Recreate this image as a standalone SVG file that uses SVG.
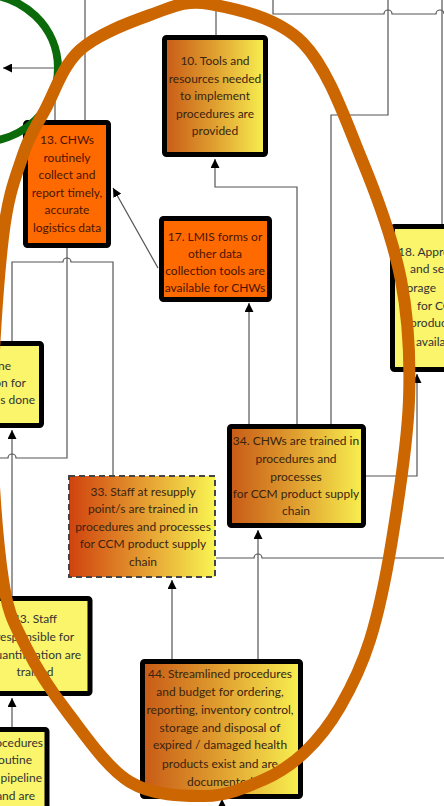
<svg xmlns="http://www.w3.org/2000/svg" width="444" height="806" viewBox="0 0 444 806">
<style>
.box{stroke:#000;stroke-width:5;stroke-linejoin:round}
.org{fill:#FF6A00}
.yel{fill:#FAF56A}
.t{font-family:Lato,"Liberation Sans",sans-serif;font-size:12px;text-anchor:middle}
.to{fill:#4a1500}
.tg{fill:#3a2410}
.ty{fill:#333}
.c{fill:none;stroke:#555;stroke-width:1.2}
</style>
<defs>
<linearGradient id="g1" x1="0" y1="0" x2="1" y2="0">
<stop offset="0" stop-color="#C85A16"/><stop offset="0.5" stop-color="#E0A030"/><stop offset="1" stop-color="#F8F050"/>
</linearGradient>
<linearGradient id="g2" x1="0" y1="0" x2="1" y2="0">
<stop offset="0" stop-color="#D0420E"/><stop offset="0.5" stop-color="#E49A30"/><stop offset="1" stop-color="#F8F452"/>
</linearGradient>
<marker id="ar" markerUnits="userSpaceOnUse" markerWidth="9" markerHeight="9" refX="9" refY="4.5" orient="auto">
<path d="M0,0 L9,4.5 L0,9 z" fill="#000"/>
</marker>
</defs>

<g id="connectors">
<path class="c" d="M55,120 V68 H3" marker-end="url(#ar)"/>
<path class="c" d="M85,0 V120"/>
<path class="c" d="M216,0 V37"/>
<path class="c" d="M297,424 V187 H215 V159" marker-end="url(#ar)"/>
<path class="c" d="M273,0 V14 H384 a4,4 0 0 1 8,0 H436 a4,4 0 0 1 8,0"/>
<path class="c" d="M388,0 V115 H331 V424"/>
<path class="c" d="M442,0 V226"/>
<path class="c" d="M366,476 H417 V374" marker-end="url(#ar)"/>
<path class="c" d="M258,659 V530" marker-end="url(#ar)"/>
<path class="c" d="M216,558 H254 a4,4 0 0 1 8,0 H444"/>
<path class="c" d="M172,659 V580" marker-end="url(#ar)"/>
<path class="c" d="M249,424 V303" marker-end="url(#ar)"/>
<path class="c" d="M67,248 V458 H16 a4,4 0 0 0 -8,0 H0"/>
<path class="c" d="M12,596 V430" marker-end="url(#ar)"/>
<path class="c" d="M12,727 V698" marker-end="url(#ar)"/>
<path class="c" d="M158,268 L113,188" marker-end="url(#ar)"/>
<path class="c" d="M113,475 V262 H71 a4,4 0 0 0 -8,0 H12 V341"/>
<path class="c" d="M222,806 V799" marker-end="url(#ar)"/>
</g>

<g id="n10">
<rect class="box" x="164.5" y="37.5" width="101" height="117" rx="2" fill="url(#g1)"/>
<text class="t tg"><tspan x="215" y="65">10. Tools and</tspan><tspan x="215" y="83">resources needed</tspan><tspan x="215" y="100">to implement</tspan><tspan x="215" y="118">procedures are</tspan><tspan x="215" y="135">provided</tspan></text>
</g>

<g id="n13">
<rect class="box org" x="25.5" y="122.5" width="83" height="123" rx="2"/>
<text class="t to"><tspan x="67" y="144">13. CHWs</tspan><tspan x="67" y="162">routinely</tspan><tspan x="67" y="179">collect and</tspan><tspan x="67" y="197">report timely,</tspan><tspan x="67" y="214">accurate</tspan><tspan x="67" y="232">logistics data</tspan></text>
</g>

<g id="n17">
<rect class="box org" x="161.5" y="218.5" width="108" height="81" rx="2"/>
<text class="t to"><tspan x="215" y="241">17. LMIS forms or</tspan><tspan x="215" y="258">other data</tspan><tspan x="215" y="275">collection tools are</tspan><tspan x="215" y="292">available for CHWs</tspan></text>
</g>

<g id="n18">
<rect class="box yel" x="392.5" y="226.5" width="100" height="143" rx="2"/>
<text class="t ty" style="text-anchor:start"><tspan x="398" y="256">18. Appro</tspan><tspan x="410" y="273">and se</tspan><tspan x="397" y="292">storage</tspan><tspan x="417" y="310">for CC</tspan><tspan x="410" y="327">produc</tspan><tspan x="416" y="346">availa</tspan></text>
</g>

<g id="nA">
<rect class="box yel" x="-10" y="343.5" width="51.5" height="82" rx="2"/>
<text class="t ty" style="text-anchor:end"><tspan x="11" y="370">ne</tspan><tspan x="26" y="387">on for</tspan><tspan x="35" y="404">s done</tspan></text>
</g>

<g id="n33">
<rect x="69" y="476" width="146" height="101" fill="url(#g2)" stroke="#444" stroke-width="2" stroke-dasharray="6,4"/>
<text class="t tg"><tspan x="143" y="496">33. Staff at resupply</tspan><tspan x="143" y="513">point/s are trained in</tspan><tspan x="143" y="531">procedures and processes</tspan><tspan x="143" y="548">for CCM product supply</tspan><tspan x="143" y="566">chain</tspan></text>
</g>

<g id="n34">
<rect class="box" x="229.5" y="426.5" width="134" height="99" rx="2" fill="url(#g1)"/>
<text class="t tg"><tspan x="296" y="445">34. CHWs are trained in</tspan><tspan x="296" y="463">procedures and</tspan><tspan x="296" y="481">processes</tspan><tspan x="296" y="498">for CCM product supply</tspan><tspan x="296" y="515">chain</tspan></text>
</g>

<g id="n43">
<rect class="box yel" x="-20" y="598.5" width="110" height="95" rx="2"/>
<text class="t ty"><tspan x="35" y="623">43. Staff</tspan><tspan x="35" y="641">responsible for</tspan><tspan x="35" y="659">quantification  are</tspan><tspan x="35" y="676">trained</tspan></text>
</g>

<g id="nB">
<rect class="box yel" x="-20" y="729.5" width="67" height="100" rx="2"/>
<text class="t ty" style="text-anchor:end"><tspan x="43" y="747">ocedures</tspan><tspan x="32" y="764">outine</tspan><tspan x="42" y="782">pipeline</tspan><tspan x="35" y="800">and are</tspan></text>
</g>

<g id="n44">
<rect class="box" x="142.5" y="661.5" width="158" height="135" rx="2" fill="url(#g1)"/>
<text class="t tg"><tspan x="220" y="678">44. Streamlined procedures</tspan><tspan x="220" y="696">and budget for ordering,</tspan><tspan x="220" y="714">reporting, inventory control,</tspan><tspan x="220" y="732">storage and disposal of</tspan><tspan x="220" y="749">expired / damaged health</tspan><tspan x="220" y="768">products exist and are</tspan><tspan x="220" y="786">documented</tspan></text>
</g>

<g id="highlights">
<ellipse cx="-20" cy="68" rx="78" ry="74" fill="none" stroke="#0B6B0B" stroke-width="8"/>
<path fill="none" stroke="#CC6600" stroke-width="12" d="M210,4 C235.5,8.7 277.7,17 303,43 C328.3,69 345.7,120.5 362,160 C378.3,199.5 393.2,240 401,280 C408.8,320 410.5,356.7 409,400 C407.5,443.3 398.5,500 392,540 C385.5,580 378.7,612.2 370,640 C361.3,667.8 350.8,688.3 340,707 C329.2,725.7 317.8,739.8 305,752 C292.2,764.2 279.7,772.7 263,780 C246.3,787.3 227.2,795.7 205,796 C182.8,796.3 152.8,795.8 130,782 C107.2,768.2 85.3,735.5 68,713 C50.7,690.5 36.8,669.2 26,647 C15.2,624.8 8.7,617.8 3,580 C-2.7,542.2 -8,477.2 -8,420 C-8,362.8 -2.2,281.2 3,237 C8.2,192.8 16,176.2 23,155 C30,133.8 35.5,127.5 45,110 C54.5,92.5 62.5,65.8 80,50 C97.5,34.2 128.3,22.7 150,15 C171.7,7.3 184.5,-0.7 210,4 Z"/>
</g>
</svg>
